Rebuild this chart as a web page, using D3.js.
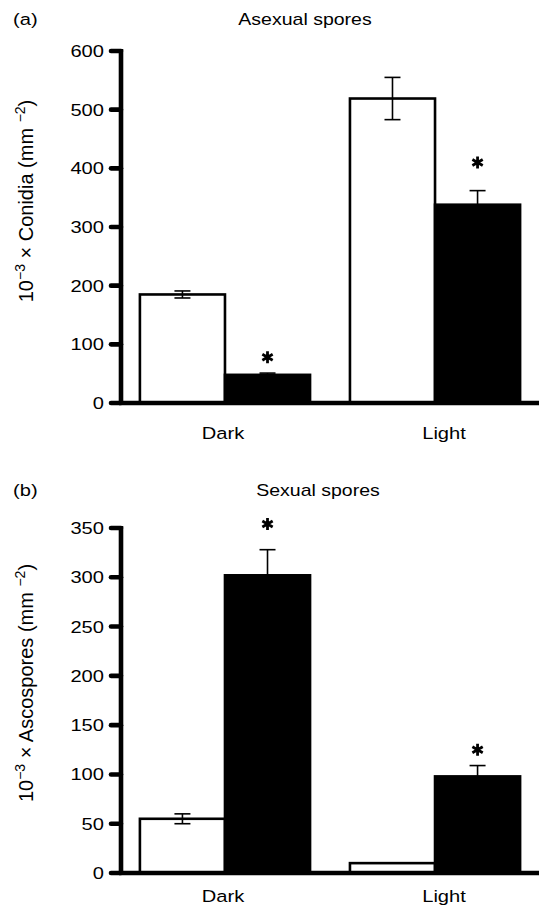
<!DOCTYPE html>
<html>
<head>
<meta charset="utf-8">
<script src="https://cdn.jsdelivr.net/npm/d3@7"></script>
<style>
  html, body { margin: 0; padding: 0; background: #fff; }
  svg { display: block; }
  text { font-family: "Liberation Sans", Arial, Helvetica, sans-serif; fill: #000; }
</style>
</head>
<body>
<svg id="chart" width="539" height="905"></svg>
<script>
// ---------------- DATA ----------------
const categories = ["Dark", "Light"];
const seriesNames = ["open", "filled"];

// Panel (a) Asexual spores
const asexualTicks = [0, 100, 200, 300, 400, 500, 600];
const asexualOpen = [185, 519];
const asexualOpenErr = [6, 36];
const asexualFilled = [48, 338];
const asexualFilledErr = [3, 24];
const asexualStarAt = [78, 410];

// Panel (b) Sexual spores
const sexualTicks = [0, 50, 100, 150, 200, 250, 300, 350];
const sexualOpen = [55, 10];
const sexualOpenErr = [5, 0];
const sexualFilled = [302, 98];
const sexualFilledErr = [26, 11];
const sexualStarAt = [354, 125];

// ---------------- DRAW ----------------
const svg = d3.select("#chart");
const SX = 1.22;      // horizontal stretch of the reference lettering
const FS = 16.5;

function hText(g, x, y, str, anchor, size) {
  return g.append("text")
    .attr("transform", `translate(${x},${y}) scale(${SX},1)`)
    .attr("text-anchor", anchor || "start")
    .attr("font-size", size || FS)
    .text(str);
}

function panel(cfg) {
  const g = svg.append("g");
  const y = d3.scaleLinear().domain([0, cfg.ticks[cfg.ticks.length - 1]]).range([cfg.y0, cfg.y1]);
  const x = d3.scaleBand().domain(categories).range([cfg.axisX, 539]).paddingInner(0.19).paddingOuter(0.09);
  const xs = d3.scaleBand().domain(seriesNames).range([0, x.bandwidth()]);

  const rows = categories.map((c, i) => ({
    cat: c,
    bars: [
      { s: "open", v: cfg.open[i], e: cfg.openErr[i] },
      { s: "filled", v: cfg.filled[i], e: cfg.filledErr[i] }
    ],
    star: cfg.starAt[i]
  }));

  // bars
  const grp = g.selectAll("g.grp").data(rows).join("g")
    .attr("transform", d => `translate(${x(d.cat)},0)`);
  grp.selectAll("rect").data(d => d.bars).join("rect")
    .attr("x", d => xs(d.s))
    .attr("width", xs.bandwidth())
    .attr("y", d => y(d.v))
    .attr("height", d => y(0) - y(d.v))
    .attr("fill", d => d.s === "open" ? "#fff" : "#000")
    .attr("stroke", "#000")
    .attr("stroke-width", 2.6);

  // error bars
  const eb = grp.selectAll("g.eb").data(d => d.bars.filter(b => b.e > 0)).join("g")
    .attr("stroke", "#000").attr("stroke-width", 1.6).attr("fill", "none");
  const cap = 8;
  eb.append("line")
    .attr("x1", d => xs(d.s) + xs.bandwidth() / 2).attr("x2", d => xs(d.s) + xs.bandwidth() / 2)
    .attr("y1", d => y(d.v - d.e)).attr("y2", d => y(d.v + d.e));
  eb.append("line")
    .attr("x1", d => xs(d.s) + xs.bandwidth() / 2 - cap).attr("x2", d => xs(d.s) + xs.bandwidth() / 2 + cap)
    .attr("y1", d => y(d.v + d.e)).attr("y2", d => y(d.v + d.e));
  eb.append("line")
    .attr("x1", d => xs(d.s) + xs.bandwidth() / 2 - cap).attr("x2", d => xs(d.s) + xs.bandwidth() / 2 + cap)
    .attr("y1", d => y(d.v - d.e)).attr("y2", d => y(d.v - d.e));

  // significance stars (over filled bars)
  grp.append("path")
    .attr("d", d3.symbol(d3.symbolAsterisk, 100)())
    .attr("transform", d => `translate(${xs("filled") + xs.bandwidth() / 2},${y(d.star)})`)
    .attr("stroke", "#000").attr("stroke-width", 2.8).attr("fill", "none");

  // axes
  const ax = g.append("g").attr("stroke", "#000").attr("stroke-width", 4.6).attr("fill", "none");
  ax.append("line").attr("x1", cfg.axisX).attr("x2", cfg.axisX)
    .attr("y1", y(cfg.ticks[cfg.ticks.length - 1]) - 2).attr("y2", y(0));
  ax.append("line").attr("x1", cfg.axisX - 2).attr("x2", 539).attr("y1", y(0)).attr("y2", y(0));
  ax.selectAll("line.tick").data(cfg.ticks).join("line")
    .attr("x1", cfg.axisX - 10).attr("x2", cfg.axisX)
    .attr("y1", d => y(d)).attr("y2", d => y(d))
    .attr("stroke-linecap", "round");

  cfg.ticks.forEach(t => {
    hText(g, cfg.axisX - 17, y(t) + 6, String(t), "end");
  });

  // category labels
  rows.forEach((r, i) => {
    hText(g, x(r.cat) + x.bandwidth() / 2 + (i === 0 ? -2 : 9), cfg.catY, r.cat, "middle");
  });

  // panel letter & title
  hText(g, 13, cfg.titleY, cfg.letter, "start");
  hText(g, cfg.titleX, cfg.titleY, cfg.title, "middle", 16);

  // y label
  const yl = g.append("text")
    .attr("transform", `translate(33,${cfg.ylabY}) rotate(-90)`)
    .attr("text-anchor", "middle")
    .attr("font-size", 20);
  yl.append("tspan").text("10");
  yl.append("tspan").attr("dy", -8).attr("font-size", 14).text("\u22123");
  yl.append("tspan").attr("dy", 8).text(" \u00d7 " + cfg.ylab + " (mm ");
  yl.append("tspan").attr("dy", -8).attr("font-size", 14).text("\u22122");
  yl.append("tspan").attr("dy", 8).text(")");
}

panel({
  ticks: asexualTicks, open: asexualOpen, openErr: asexualOpenErr,
  filled: asexualFilled, filledErr: asexualFilledErr, starAt: asexualStarAt,
  y0: 403, y1: 51, axisX: 121, catY: 439,
  letter: "(a)", title: "Asexual spores", titleX: 305, titleY: 25,
  ylab: "Conidia", ylabY: 201
});

panel({
  ticks: sexualTicks, open: sexualOpen, openErr: sexualOpenErr,
  filled: sexualFilled, filledErr: sexualFilledErr, starAt: sexualStarAt,
  y0: 873, y1: 528, axisX: 121, catY: 902,
  letter: "(b)", title: "Sexual spores", titleX: 318, titleY: 496,
  ylab: "Ascospores", ylabY: 683
});
</script>
</body>
</html>
